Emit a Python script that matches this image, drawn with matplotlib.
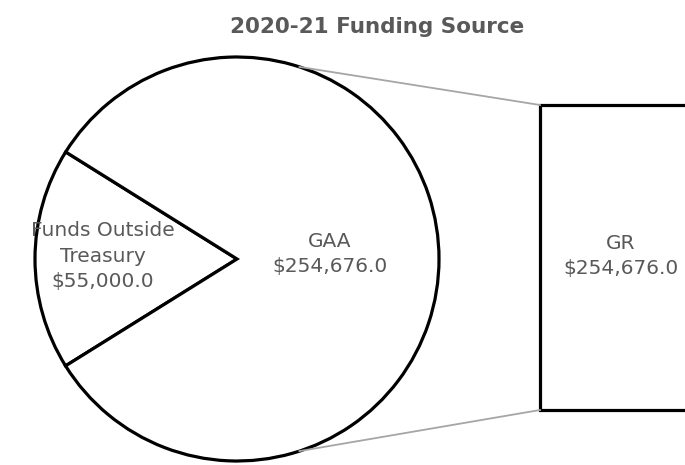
import matplotlib
matplotlib.use('Agg')
import matplotlib.pyplot as plt
from matplotlib.patches import Rectangle
import numpy as np

labels = ['Funds Outside\nTreasury', 'GAA']
amounts = [55000.0, 254676.0]
bar_label = 'GR'
bar_amount = 254676.0

center = (237, 206)  # pie centre in pixel units
radius = 202
text_color = '#595959'

plt.figure(figsize = (6.85, 4.65), dpi = 100)
ax = plt.axes([0, 0, 1, 1])

plt.pie(amounts, startangle = 148, radius = radius, center = center, colors = ['white', 'white'],
        wedgeprops = {'edgecolor': 'black', 'linewidth': 2.3}, frame = True)
ax.set_xlim(0, 685)
ax.set_ylim(0, 465)
ax.set_aspect('equal')
ax.axis('off')

# pie labels
plt.text(103, 209, labels[0] + '\n${:,.1f}'.format(amounts[0]), ha = 'center', va = 'center',
         fontsize = 14.5, color = text_color, linespacing = 1.4)
plt.text(330, 211, labels[1] + '\n${:,.1f}'.format(amounts[1]), ha = 'center', va = 'center',
         fontsize = 14.5, color = text_color, linespacing = 1.4)

# the bar of the pie
rect = Rectangle((540, 55), 160, 305, facecolor = 'white', edgecolor = 'black', linewidth = 2.3, clip_on = False)
ax.add_patch(rect)
plt.text(621, 209, bar_label + '\n${:,.1f}'.format(bar_amount), ha = 'center', va = 'center',
         fontsize = 14.5, color = text_color, linespacing = 1.4)

# connector lines
top = np.radians(72)
plt.plot([center[0] + radius * np.cos(top), 540], [center[1] + radius * np.sin(top), 360], color = '#a6a6a6', lw = 1.3)
plt.plot([center[0] + radius * np.cos(-top), 540], [center[1] + radius * np.sin(-top), 55], color = '#a6a6a6', lw = 1.3)

plt.text(377, 438, '2020-21 Funding Source', ha = 'center', va = 'center', fontsize = 15.5,
         fontweight = 'bold', color = text_color)
plt.savefig('out.png', dpi = 100)
